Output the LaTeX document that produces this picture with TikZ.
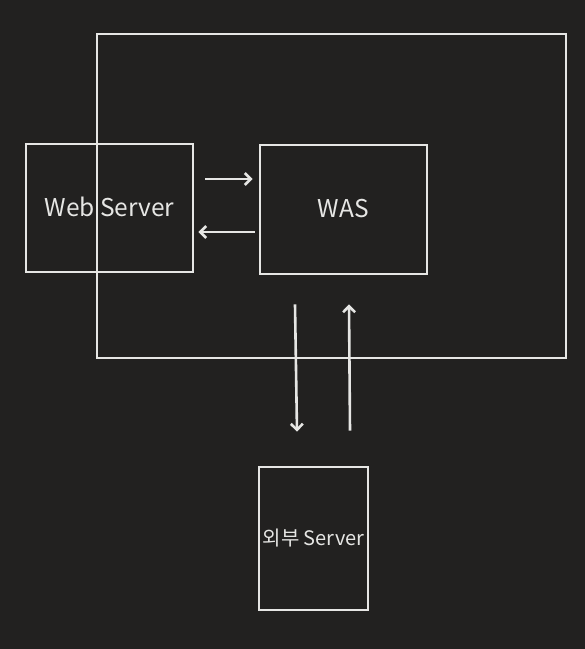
\documentclass[tikz,border=0pt]{standalone}
\usepackage{fontspec}
\setmainfont{Noto Sans CJK KR}
\usetikzlibrary{arrows.meta}
\definecolor{bgcol}{HTML}{222120}
\definecolor{linecol}{HTML}{E6E6E4}

\begin{document}
\begin{tikzpicture}[x=1pt,y=-1pt,>={Straight Barb[length=6pt,width=12pt]},line width=2.8pt,
    box/.style={draw=linecol,rectangle,inner sep=0pt,text=linecol,font=\fontsize{24.5}{28}\selectfont},
    arr/.style={->,draw=linecol,line width=2.6pt}]
    \fill[bgcol] (0,0) rectangle (585,649);
    \useasboundingbox (0,0) rectangle (585,649);

    \node[box,minimum width=469pt,minimum height=324pt] (frame) at (331.5,196) {};
    \node[box,minimum width=167pt,minimum height=128pt] (web) at (109.5,208) {\raisebox{3pt}{Web Server}};
    \node[box,minimum width=167pt,minimum height=129pt] (was) at (343.5,209.5) {\raisebox{3pt}{WAS}};
    \node[box,minimum width=109pt,minimum height=143pt,font=\fontsize{20}{24}\selectfont] (ext) at (313.5,538.5) {외부 Server};

    % web <-> was
    \draw[arr] ([shift={(11,-29)}]web.east) -- ([shift={(-6,-30.5)}]was.west);
    \draw[arr] ([shift={(-4,22.5)}]was.west) -- ([shift={(4,24)}]web.east);

    % was <-> external
    \draw[arr] ([shift={(-48.5,29)}]was.south) -- ([shift={(-16.5,-34)}]ext.north);
    \draw[arr] ([shift={(36.5,-35)}]ext.north) -- ([shift={(5.5,29)}]was.south);
\end{tikzpicture}
\end{document}
